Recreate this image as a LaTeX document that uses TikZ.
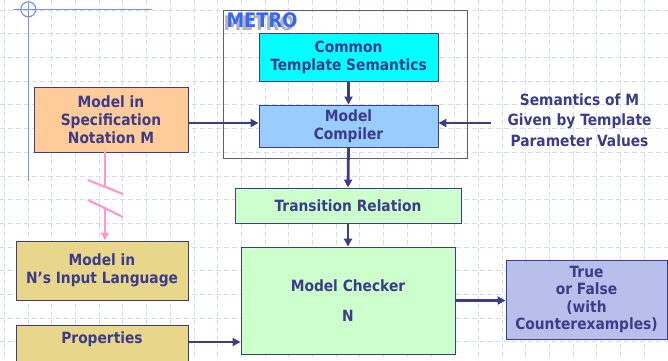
\documentclass[tikz,border=0pt]{standalone}
\usepackage{fontspec}
\setmainfont{DejaVu Sans}[FakeStretch=0.89]
\usetikzlibrary{arrows.meta}
\definecolor{ink}{HTML}{3C3C8A}
\definecolor{gridblue}{HTML}{D4DCFA}
\definecolor{tmplblue}{HTML}{7B93F0}
\definecolor{metroblue}{HTML}{3366FF}
\definecolor{specfill}{HTML}{FFCC99}
\definecolor{semfill}{HTML}{00FFFF}
\definecolor{compfill}{HTML}{99CCFF}
\definecolor{mcfill}{HTML}{CCFFCC}
\definecolor{inputfill}{HTML}{E8D68A}
\definecolor{resfill}{HTML}{B7BFEB}
\definecolor{pinkline}{HTML}{FF99CC}
\tikzset{
  box/.style={draw=ink, line width=0.9pt, text=ink, align=center, inner sep=0pt,
    font=\bfseries\fontsize{15.5}{18}\selectfont},
  flow/.style={draw=ink, line width=2.8pt, -{Triangle[length=8pt,width=8pt]}},
  gridline/.style={gridblue, line width=0.8pt, dash pattern=on 5pt off 3pt},
  cutline/.style={pinkline, line width=2.6pt},
}
\begin{document}
\begin{tikzpicture}[x=1pt,y=-1pt]
      \useasboundingbox (0,0) rectangle (668,360);
      % background grid
      \foreach \k in {0,...,27}
        \draw[gridline] ({4.3+23.7*\k},0) -- ({4.3+23.7*\k},360);
      \foreach \k in {0,...,14}
        \draw[gridline] (0,{10+23.7*\k}) -- (668,{10+23.7*\k});
      \draw[tmplblue, line width=1.2pt] (13,9.5) -- (152,9.5);
      \draw[tmplblue, line width=1.2pt] (28.3,3) -- (28.3,181);
      \draw[tmplblue, line width=1.2pt] (28.3,9.3) circle (7.5);
      % METRO frame
      \node[draw=ink!85, line width=1pt, minimum width=244pt, minimum height=148pt,
        inner sep=0pt] (metro) at (345,84) {};
      \node[anchor=base west, text=black!30, font=\bfseries\fontsize{20}{22}\selectfont]
        (metroshadow) at (220,30.5) {METRO};
      \node[anchor=base west, text=metroblue, font=\bfseries\fontsize{20}{22}\selectfont]
        (metrolabel) at (223,27.5) {METRO};
      \draw
        (348.5,57) node[box, fill=semfill, minimum width=179pt, minimum height=48pt] (common)
          {Common\\Template Semantics}
        (348.5,126) node[box, fill=compfill, minimum width=179pt, minimum height=42pt] (compiler)
          {Model\\Compiler}
        (111,119.5) node[box, fill=specfill, minimum width=154pt, minimum height=65pt] (spec)
          {Model in\\Specification\\Notation M}
        (579.5,120) node[box, draw=none, font=\bfseries\fontsize{15.5}{20.5}\selectfont] (sem)
          {Semantics of M\\Given by Template\\Parameter Values}
        (348,205.5) node[box, fill=mcfill, minimum width=226pt, minimum height=35pt] (trans)
          {Transition Relation}
        (348,300.5) node[box, fill=mcfill, minimum width=214pt, minimum height=107pt] (checker)
          {Model Checker\\[12pt]N}
        (102,270.5) node[box, fill=inputfill, minimum width=172pt, minimum height=59pt] (inN)
          {Model in\\N’s Input Language}
        (586.5,299.5) node[box, fill=resfill, minimum width=161pt, minimum height=79pt,
          font=\bfseries\fontsize{15.5}{17.3}\selectfont] (tf)
          {True\\or False\\(with\\Counterexamples)};
      \node[box, fill=inputfill, minimum width=172pt, anchor=north, inner ysep=7pt,
        text height=11.5pt, text depth=40pt] (props) at (102,325) {Properties};
      \coordinate (inY) at (0,123);
      \coordinate (propY) at (0,342);
      \coordinate (cut1) at (105,187);
      \coordinate (cut2) at (105,208);
      \begin{scope}[flow]
        \draw (common.south) to (compiler.north);
        \draw (spec.east |- inY) to (compiler.west |- inY);
        \draw ([xshift=-16pt]sem.west |- inY) to (compiler.east |- inY);
        \draw (compiler.south) to (trans.north);
        \draw (trans.south) to (checker.north);
        \draw (checker.east) to (checker.east -| tf.west);
        \draw (props.east |- propY) to (checker.west |- propY);
      \end{scope}
      \draw[cutline] (spec.south -| cut1) -- (cut1);
      \draw[cutline, -{Triangle[length=8pt,width=8pt]}] (cut2) -- (inN.north -| cut2);
      \draw[cutline, line width=2.2pt] (88,180) -- (123,194);
      \draw[cutline, line width=2.2pt] (88,200) -- (123,217);
    \end{tikzpicture}
\end{document}
